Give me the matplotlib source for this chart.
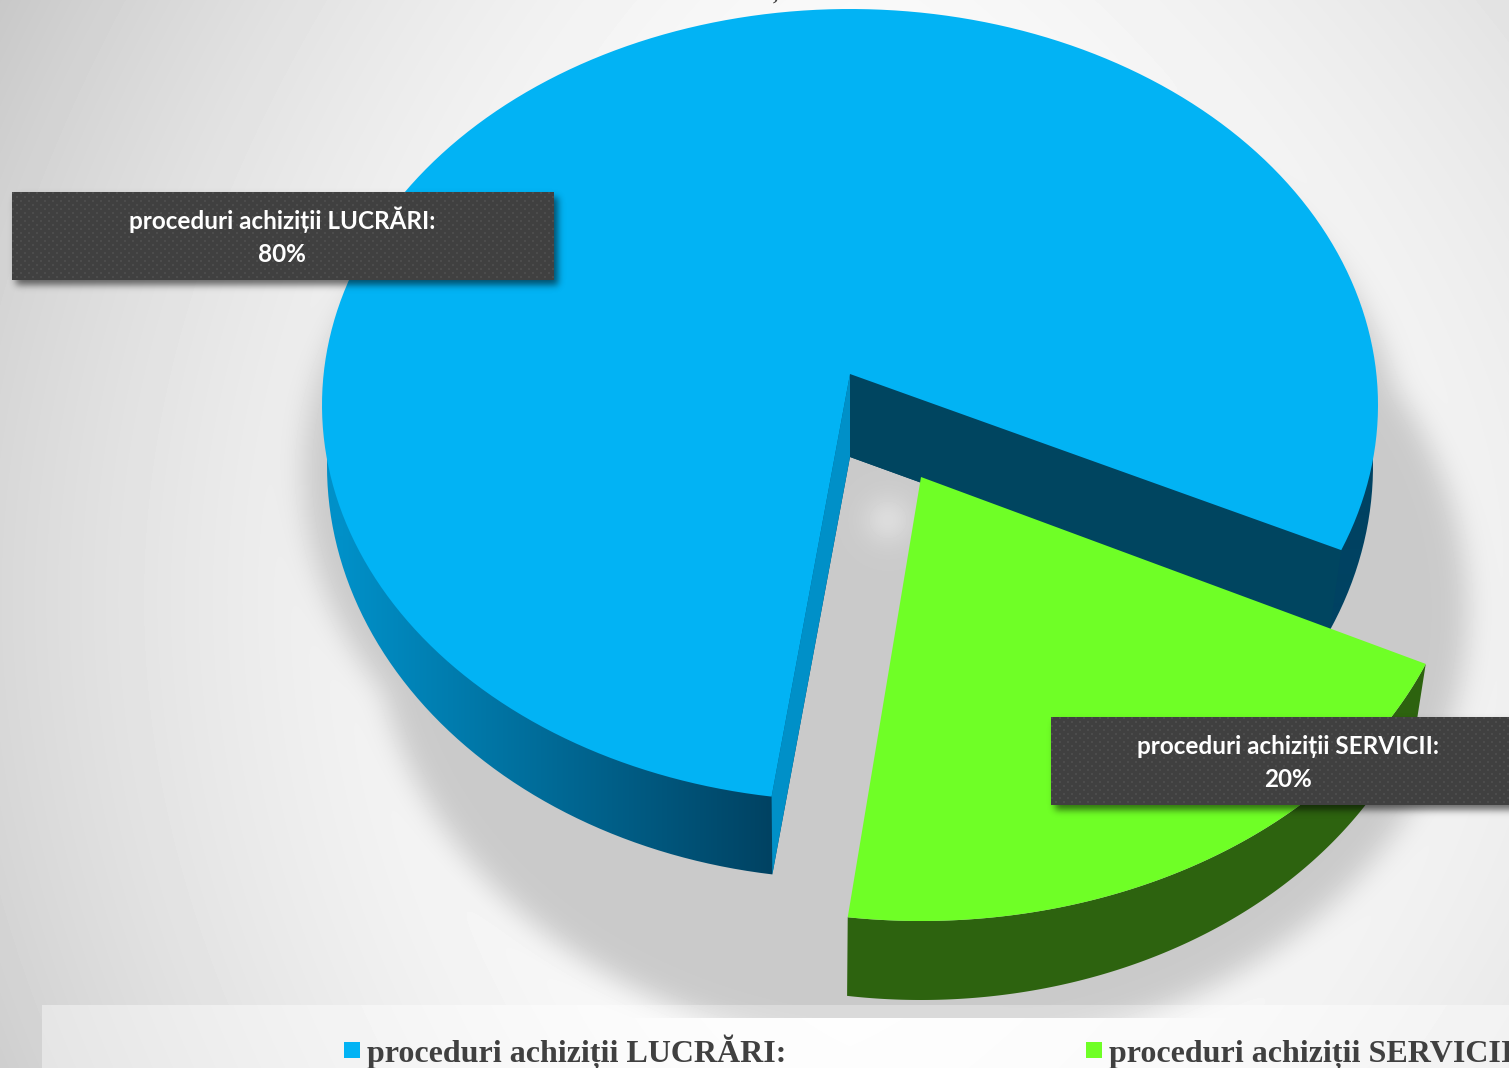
import numpy as np
import matplotlib
matplotlib.use('Agg')
import matplotlib.pyplot as plt
from matplotlib.patches import PathPatch, Polygon, Rectangle
from matplotlib.path import Path

W, H = 1509, 1068

# The data
LABELS = ['proceduri achiziții LUCRĂRI:', 'proceduri achiziții SERVICII:']
VALUES = [80, 20]
PIE_COLORS = ['#02B3F4', '#6FFF26']

# Look of the fake 3d pie, all in pixels
START_ANGLE = 21.5
FRONT_STRETCH = 1.07
BLUE_TOP = (850, 405, 528, 396)
BLUE_BOTTOM = (850, 466, 523, 413)
BLUE_APEX = (850, 374)
BLUE_APEX_LOW = (850, 457)
GREEN_TOP = (921, 511, 544, 410)
GREEN_BOTTOM = (921, 590, 522, 410)
GREEN_APEX = (921, 477)
BLUE_SHADOW = (855, 474, 552, 420)
GREEN_SHADOW = (921, 610, 547, 445)


def arc(ell, t1, t2, n=200):
    t = np.radians(np.linspace(t1, t2, n))
    return np.column_stack([ell[0] + ell[2] * np.cos(t), ell[1] + ell[3] * np.sin(t)])


def inside(xx, yy, ell):
    return ((xx - ell[0]) / ell[2]) ** 2 + ((yy - ell[1]) / ell[3]) ** 2 <= 1


def blur(img, sigma):
    pad = int(sigma * 4)
    p = np.pad(img, pad, mode='edge')
    fy = np.fft.fftfreq(p.shape[0])[:, None]
    fx = np.fft.rfftfreq(p.shape[1])[None, :]
    g = np.exp(-2 * (np.pi * sigma) ** 2 * (fx ** 2 + fy ** 2))
    out = np.fft.irfft2(np.fft.rfft2(p) * g, s=p.shape)
    return out[pad:-pad, pad:-pad]


# slice angles come from the values, the front of the pie looks a bit wider
green_span = VALUES[1] / sum(VALUES) * 360 * FRONT_STRETCH
t_start = START_ANGLE
t_split = START_ANGLE + green_span
t_end = START_ANGLE + 360

fig = plt.figure(figsize=(W / 100, H / 100), dpi=100)
ax = fig.add_axes([0, 0, 1, 1])
ax.set_axis_off()

# --- background with the shadow of the pie ---
yy, xx = np.mgrid[0:H, 0:W] + 0.5
u = np.abs(xx - 850) / 850
v = (yy - 600) / 600
k = np.where(xx < 850, 39, 25)
bg = 255 - k * u ** 2 - (6 + 10 * u) * v ** 2
strip = (xx >= 42) & (yy >= 1005)
bg[strip] = bg[strip] + (255 - bg[strip]) * 0.4

shape = inside(xx, yy, BLUE_SHADOW) | inside(xx, yy, GREEN_SHADOW)
shade = blur(shape.astype(float), 14)
shade[yy > 1018] = 0
shade[strip] *= 0.7
bg = bg * (1 - shade) + 202 * shade
bg += 18 * np.exp(-((xx - 888) ** 2 + (yy - 520) ** 2) / (2 * 17 ** 2))
ax.imshow(np.clip(bg, 0, 255), cmap='gray', vmin=0, vmax=255, extent=(0, W, H, 0),
          aspect='auto', interpolation='nearest', zorder=0)

# --- blue slice ---
low_arc = arc(BLUE_BOTTOM, t_split, t_end + 2)
bottom_patch = PathPatch(Path(np.vstack([BLUE_APEX_LOW, low_arc, BLUE_APEX_LOW])), fc='none', ec='none', zorder=1)
ax.add_patch(bottom_patch)
x_grad = np.arange(W)
mix = np.clip((x_grad - 343) / (771 - 343), 0, 1)
wall = np.zeros((1, W, 3))
wall[0, :, 1] = (144 + (66 - 144) * mix) / 255
wall[0, :, 2] = (200 + (98 - 200) * mix) / 255
im = ax.imshow(wall, extent=(0, W, H, 0), aspect='auto', interpolation='bilinear', zorder=1)
im.set_clip_path(bottom_patch)

top_arc = arc(BLUE_TOP, t_split, t_end)
ax.add_patch(Polygon([BLUE_APEX, BLUE_APEX_LOW, low_arc[0], top_arc[0]], fc='#0090C8', ec='none', zorder=2))
ax.add_patch(Polygon([BLUE_APEX, top_arc[-1], low_arc[-1], BLUE_APEX_LOW], fc='#004560', ec='none', zorder=2))
ax.add_patch(Polygon(np.vstack([BLUE_APEX, top_arc]), fc=PIE_COLORS[0], ec='none', zorder=3))

# --- green slice ---
g_top = arc(GREEN_TOP, t_start + 0.4, t_split - 0.8)
g_low = arc(GREEN_BOTTOM, t_start - 3.5, t_split - 0.4)
ax.add_patch(Polygon(np.vstack([g_top, g_low[::-1]]), fc='#2D630F', ec='none', zorder=4))
ax.add_patch(Polygon(np.vstack([GREEN_APEX, g_top]), fc=PIE_COLORS[1], ec='none', zorder=5))

# --- data labels ---
boxes = [(12, 192, 554, 280), (1051, 717, W, 805)]
label_x = [282, 1288]
for box, name, val, lx in zip(boxes, LABELS, VALUES, label_x):
    x0, y0, x1, y1 = box
    sh = ((xx >= x0 + 4) & (xx <= x1 + 4) & (yy >= y0 + 5) & (yy <= y1 + 5)).astype(float)
    sh = blur(sh, 3.5) * 0.55
    rgba = np.zeros((H, W, 4))
    rgba[..., 3] = sh
    ax.imshow(rgba, extent=(0, W, H, 0), aspect='auto', interpolation='nearest', zorder=6)
    # dark box with a small dotted pattern
    bw, bh = x1 - x0, y1 - y0
    rows, cols = np.mgrid[0:bh, 0:bw]
    tile = np.full((bh, bw), 0.25)
    dots = ((rows % 8 < 2) & (cols % 8 < 2)) | (((rows + 4) % 8 < 2) & ((cols + 4) % 8 < 2))
    tile[dots] = 0.30
    ax.imshow(tile, cmap='gray', vmin=0, vmax=1, extent=(x0, x1, y1, y0), aspect='auto',
              interpolation='nearest', zorder=7)
    ax.text(lx, y0 + 37, name, color='white', fontsize=17.5, fontweight='bold', family=['Lato', 'DejaVu Sans'],
            ha='center', va='baseline', zorder=8)
    ax.text(lx, y0 + 70, f'{val}%', color='white', fontsize=17.5, fontweight='bold', family=['Lato', 'DejaVu Sans'],
            ha='center', va='baseline', zorder=8)

# --- legend, it runs off the right edge of the slide ---
legend_x = [344, 1086]
for lx, name, col in zip(legend_x, LABELS, PIE_COLORS):
    ax.add_patch(Rectangle((lx, 1042), 16, 16, fc=col, ec='none', zorder=8))
    ax.text(lx + 23, 1062, name, color='#404040', fontsize=23, fontweight='bold', family='Liberation Serif',
            ha='left', va='baseline', zorder=8)

# tail of the title that is cut off above the picture
ax.text(775, 0, ',', color='#404040', fontsize=15, fontweight='bold', family='Liberation Serif',
        ha='center', va='baseline', zorder=8)

ax.set_xlim(0, W)
ax.set_ylim(H, 0)
fig.savefig('out.png', dpi=100)
